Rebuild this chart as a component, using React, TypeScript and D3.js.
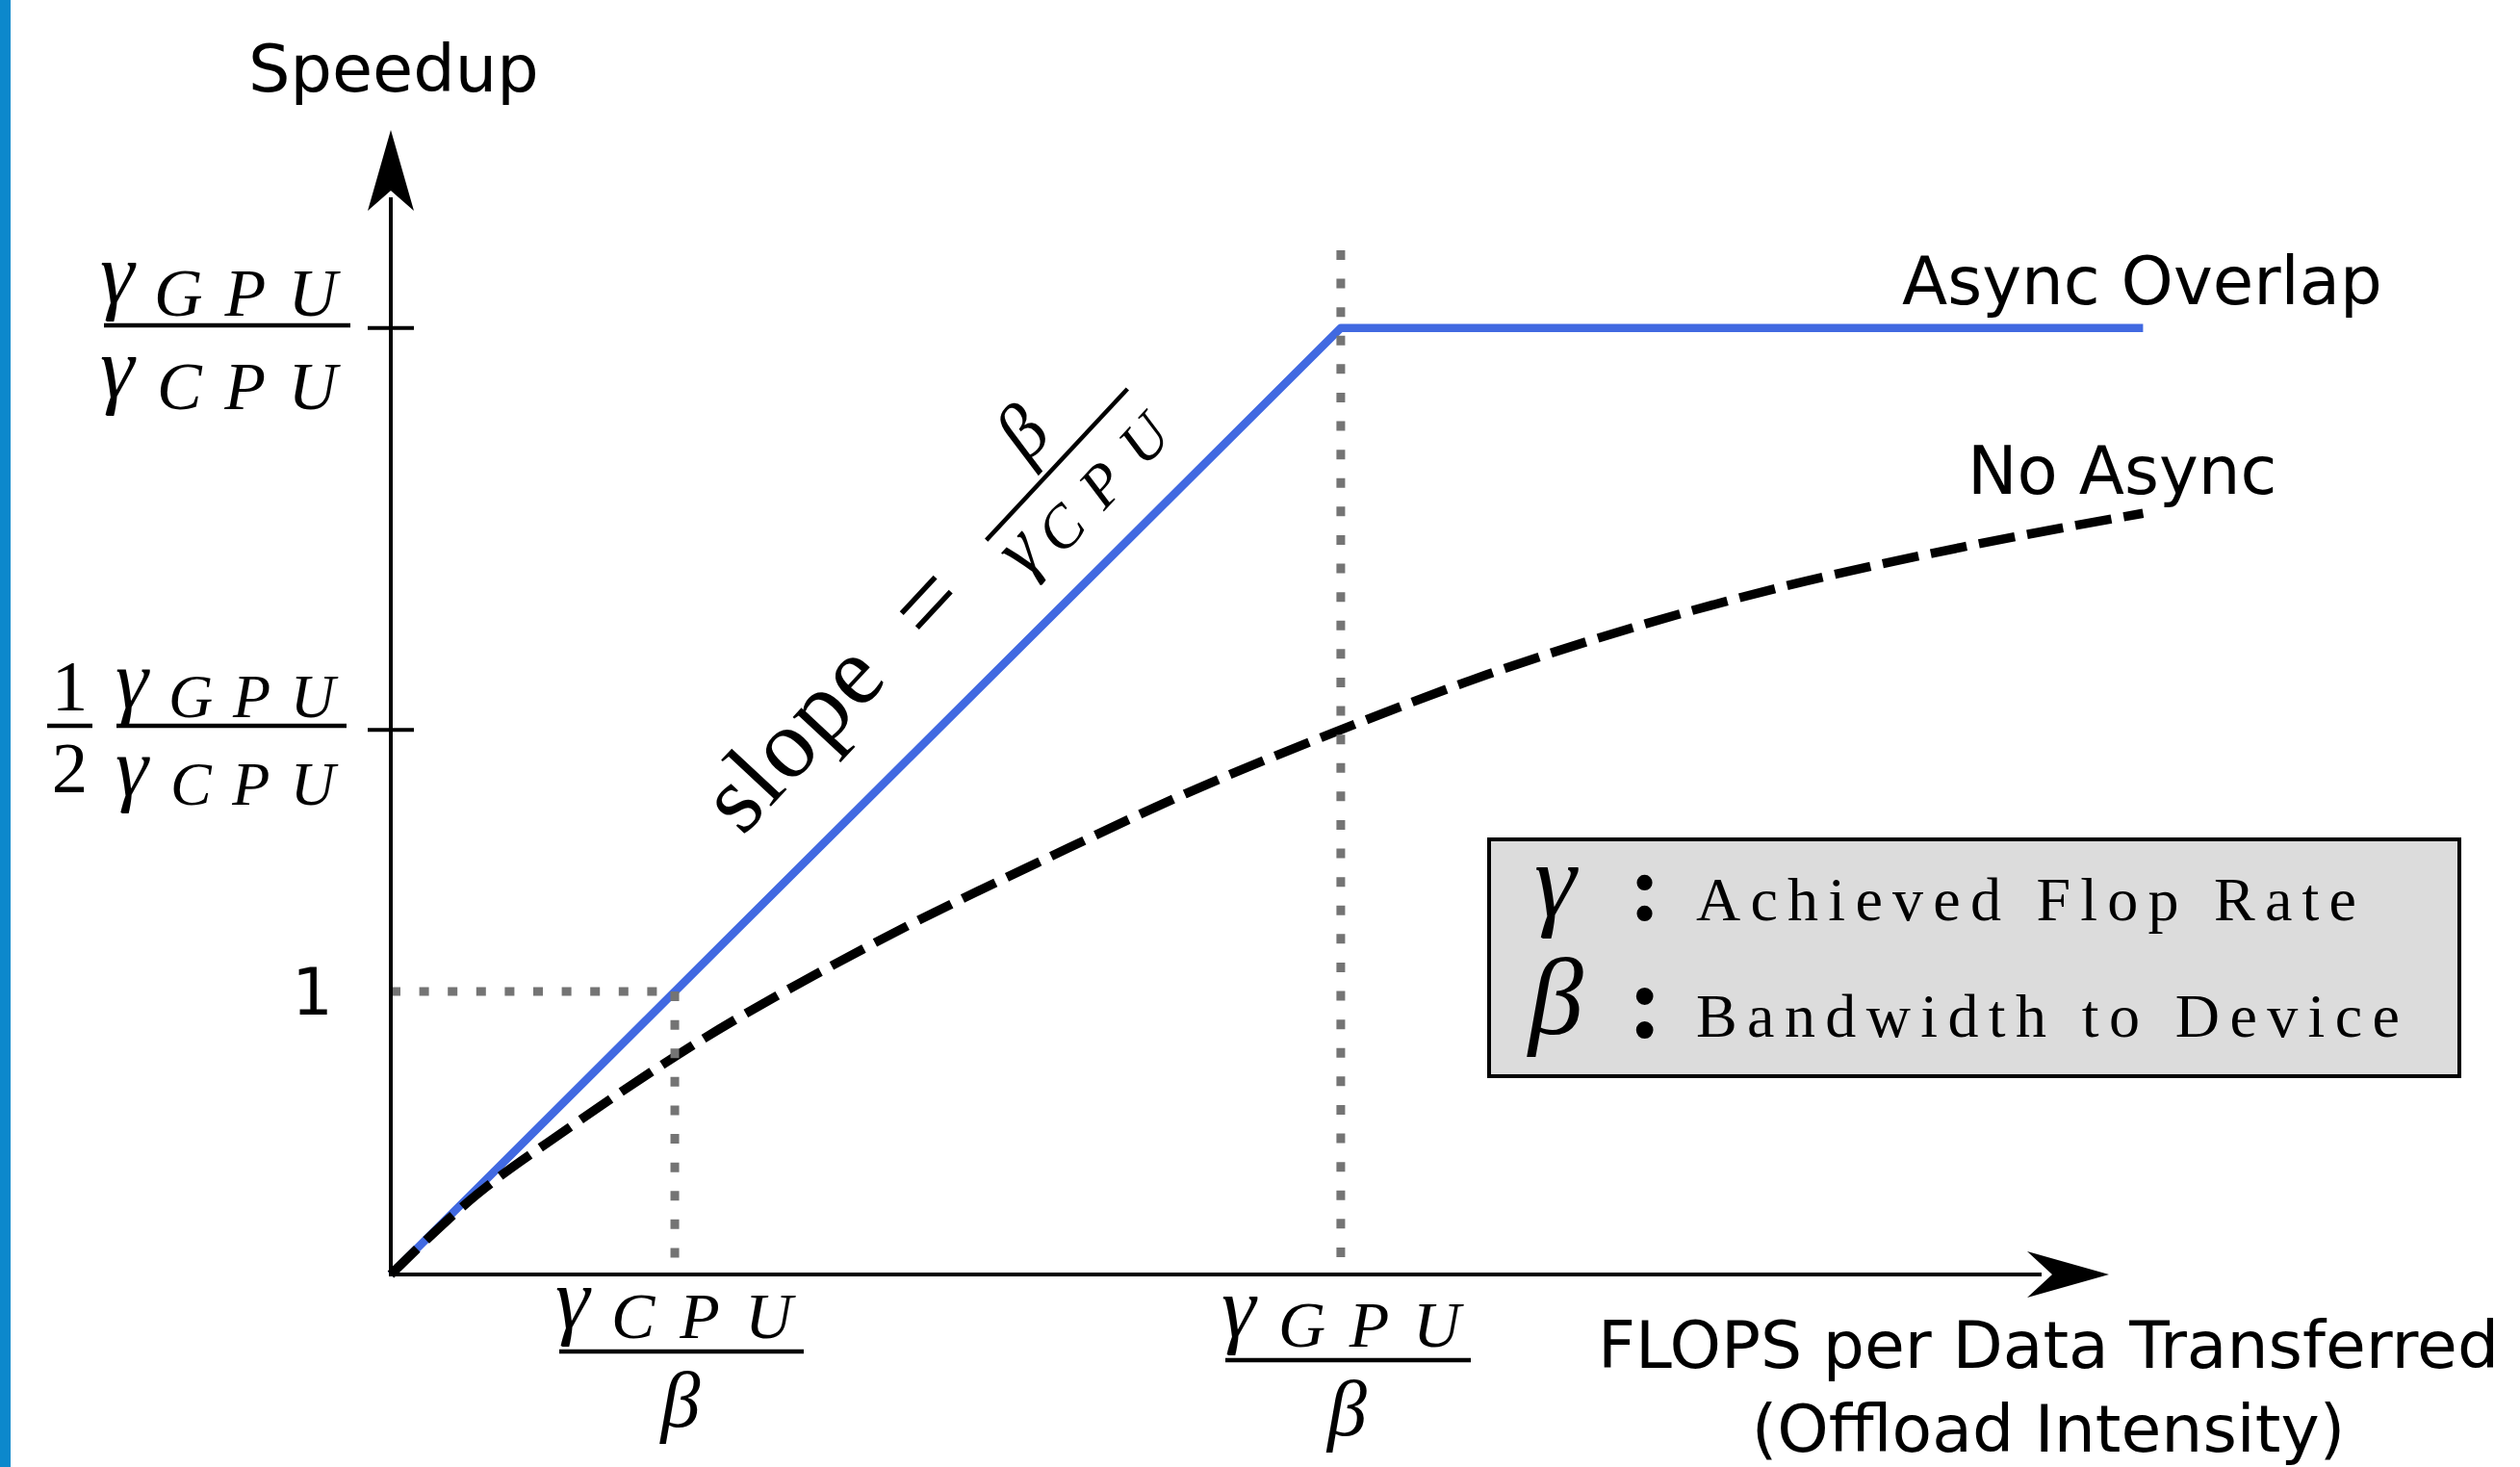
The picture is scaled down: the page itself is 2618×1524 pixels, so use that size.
import React from "react";
import * as d3 from "d3";

// ---- data ----
const ratioGPU = 3.345; // gamma_GPU / gamma_CPU (in units of gamma_CPU/beta)
const asyncX = [0, 3.345, 6.17];
const asyncY = [0, 3.345, 3.345];
const noAsyncX = [0, 0.3, 0.63, 1.0, 1.7, 2.35, 2.8, 3.345, 3.86, 4.42, 4.98, 5.53, 6.17];
const noAsyncY = [0, 0.28, 0.52, 0.77, 1.17, 1.49, 1.7, 1.925, 2.12, 2.3, 2.45, 2.57, 2.69];
const yTickMarks = [ratioGPU, 1.925];
const dottedVX = [1, ratioGPU];
const dottedVTop = [1, 3.62];
const seriesLabels = ["Async Overlap", "No Async"];
const legendNames = ["Achieved Flop Rate", "Bandwidth to Device"];
const xAxisTitle = ["FLOPS per Data Transferred", "(Offload Intensity)"];
const yAxisTitle = "Speedup";

const W = 2618;
const H = 1524;
const SANS = "'DejaVu Sans', sans-serif";
const SERIF = "'Liberation Serif', 'DejaVu Serif', serif";

const x = d3.scaleLinear().domain([0, 6.05]).range([406, 2191]);
const y = d3.scaleLinear().domain([0, 4.045]).range([1324, 135]);

const line = d3
  .line<[number, number]>()
  .x((d) => x(d[0]))
  .y((d) => y(d[1]));

function Gamma(props: {
  gx: number;
  gBase: number;
  gSize: number;
  sub: string;
  sx: number;
  sBase: number;
  sSize: number;
  sLen: number;
}) {
  const { gx, gBase, gSize, sub, sx, sBase, sSize, sLen } = props;
  return (
    <g fontFamily={SERIF} fontStyle="italic" fill="#000">
      <text x={gx} y={gBase} fontSize={gSize}>
        γ
      </text>
      <text x={sx} y={sBase} fontSize={sSize} textLength={sLen} lengthAdjust="spacing">
        {sub}
      </text>
    </g>
  );
}

// x tick label: gamma_sub over beta
function XFrac(props: { gx: number; bar: number; x1: number; x2: number; sub: string; sx: number; sLen: number }) {
  const { gx, bar, x1, x2, sub, sx, sLen } = props;
  const cx = (x1 + x2) / 2 - 1;
  return (
    <g fontFamily={SERIF} fontStyle="italic" fill="#000">
      <line x1={x1} x2={x2} y1={bar} y2={bar} stroke="#000" strokeWidth={4.5} />
      <text x={gx} y={bar - 24} fontSize={90}>
        γ
      </text>
      <text x={sx} y={bar - 14} fontSize={68} textLength={sLen} lengthAdjust="spacing">
        {sub}
      </text>
      <text x={cx} y={bar + 78} fontSize={82} textAnchor="middle">
        β
      </text>
    </g>
  );
}

export default function App() {
  const asyncPts = asyncX.map((v, i) => [v, asyncY[i]] as [number, number]);
  const noAsyncPts = noAsyncX.map((v, i) => [v, noAsyncY[i]] as [number, number]);
  const curve = d3
    .line<[number, number]>()
    .x((d) => x(d[0]))
    .y((d) => y(d[1]))
    .curve(d3.curveMonotoneX);

  const x0 = x(0);
  const y0 = y(0);
  const yTip = y(4.045);
  const xTip = x(6.05);

  return (
    <div style={{ position: "absolute", left: 0, top: 0 }}>
      <svg width={W} height={H} style={{ display: "block", background: "#fff" }}>
        <rect x={0} y={0} width={W} height={H} fill="#fff" />
        <rect x={0} y={0} width={11} height={H} fill="#0c88cc" />

        {/* series */}
        <path d={line(asyncPts) || ""} fill="none" stroke="#4169e1" strokeWidth={8.5} strokeLinejoin="round" />
        <path
          d={curve(noAsyncPts) || ""}
          fill="none"
          stroke="#000"
          strokeWidth={9.5}
          strokeDasharray="38 13"
        />

        {/* dotted guides */}
        <line x1={x0} y1={y(1)} x2={x(1)} y2={y(1)} stroke="#747474" strokeWidth={9} strokeDasharray="10 19.6" />
        {dottedVX.map((v, i) => (
          <line
            key={i}
            x1={x(v)}
            y1={y(dottedVTop[i])}
            x2={x(v)}
            y2={y0}
            stroke="#747474"
            strokeWidth={9}
            strokeDasharray="10 19.6"
          />
        ))}

        {/* axes */}
        <line x1={x0} y1={y0 + 2} x2={x0} y2={yTip + 70} stroke="#000" strokeWidth={4} />
        <path d={`M${x0},${yTip} L${x0 + 24},${yTip + 84} L${x0},${yTip + 63} L${x0 - 24},${yTip + 84} Z`} fill="#000" />
        <line x1={x0 - 2} y1={y0} x2={xTip - 70} y2={y0} stroke="#000" strokeWidth={4} />
        <path d={`M${xTip},${y0} L${xTip - 85},${y0 - 24} L${xTip - 59},${y0} L${xTip - 85},${y0 + 24} Z`} fill="#000" />
        {yTickMarks.map((v, i) => (
          <line key={i} x1={x0 - 24} x2={x0 + 24} y1={y(v)} y2={y(v)} stroke="#000" strokeWidth={4} />
        ))}

        {/* axis titles */}
        <text x={258} y={95} fontFamily={SANS} fontSize={68.5} fill="#000">
          {yAxisTitle}
        </text>
        <text x={2128} y={1421} fontFamily={SANS} fontSize={68} textAnchor="middle" fill="#000">
          {xAxisTitle[0]}
        </text>
        <text x={2128} y={1508} fontFamily={SANS} fontSize={68} textAnchor="middle" fill="#000">
          {xAxisTitle[1]}
        </text>

        {/* series labels */}
        <text x={1976} y={316} fontFamily={SANS} fontSize={69} fill="#000">
          {seriesLabels[0]}
        </text>
        <text x={2044} y={513} fontFamily={SANS} fontSize={69} fill="#000">
          {seriesLabels[1]}
        </text>

        {/* y tick label: 1 */}
        <text x={346} y={y(1) + 24} fontFamily={SANS} fontSize={67} textAnchor="end" fill="#000">
          1
        </text>

        {/* y tick label: gammaGPU/gammaCPU */}
        <g>
          <line x1={108} x2={364} y1={338} y2={338} stroke="#000" strokeWidth={4.5} />
          <Gamma gx={104} gBase={315} gSize={90} sub="GPU" sx={160} sBase={328} sSize={70} sLen={190} />
          <Gamma gx={104} gBase={413} gSize={90} sub="CPU" sx={163} sBase={425} sSize={70} sLen={187} />
        </g>

        {/* y tick label: 1/2 gammaGPU/gammaCPU */}
        <g>
          <line x1={49} x2={96} y1={754} y2={754} stroke="#000" strokeWidth={4.5} />
          <text x={72.5} y={738} fontFamily={SERIF} fontSize={75} textAnchor="middle">
            1
          </text>
          <text x={72.5} y={823} fontFamily={SERIF} fontSize={75} textAnchor="middle">
            2
          </text>
          <line x1={121} x2={360} y1={754} y2={754} stroke="#000" strokeWidth={4.5} />
          <Gamma gx={120} gBase={735} gSize={86} sub="GPU" sx={175} sBase={745} sSize={64} sLen={173} />
          <Gamma gx={120} gBase={826} gSize={86} sub="CPU" sx={177} sBase={836} sSize={64} sLen={171} />
        </g>

        {/* x tick labels */}
        <XFrac gx={577} bar={1404} x1={581} x2={835} sub="CPU" sx={635} sLen={188} />
        <XFrac gx={1269} bar={1413} x1={1273} x2={1528} sub="GPU" sx={1328} sLen={189} />

        {/* slope annotation */}
        <g transform="translate(834,773) rotate(-47)">
          <text x={-2} y={20} fontFamily={SERIF} fontSize={102} textAnchor="middle" textLength={223} lengthAdjust="spacing">
            slope
          </text>
          <text x={195} y={30} fontFamily={SERIF} fontSize={110} textAnchor="middle">
            =
          </text>
          <line x1={285} x2={500} y1={-5} y2={-5} stroke="#000" strokeWidth={4.5} />
          <text x={392} y={-28} fontFamily={SERIF} fontStyle="italic" fontSize={80} textAnchor="middle">
            β
          </text>
          <Gamma gx={284} gBase={52} gSize={80} sub="CPU" sx={326} sBase={64} sSize={62} sLen={170} />
        </g>

        {/* legend box */}
        <rect x={1547} y={872} width={1008} height={246} fill="#dcdcdc" stroke="#000" strokeWidth={4} />
        <text x={1594} y={952} fontFamily={SERIF} fontStyle="italic" fontSize={110}>
          γ
        </text>
        <text x={1709} y={956} fontFamily={SERIF} fontWeight="bold" fontSize={100} textAnchor="middle">
          :
        </text>
        <text x={1762} y={956} fontFamily={SERIF} fontSize={64} textLength={686} lengthAdjust="spacing">
          {legendNames[0]}
        </text>
        <text x={1588} y={1074} fontFamily={SERIF} fontStyle="italic" fontSize={114}>
          β
        </text>
        <text x={1709} y={1077} fontFamily={SERIF} fontWeight="bold" fontSize={110} textAnchor="middle">
          :
        </text>
        <text x={1762} y={1077} fontFamily={SERIF} fontSize={64} textLength={731} lengthAdjust="spacing">
          {legendNames[1]}
        </text>
      </svg>
    </div>
  );
}
